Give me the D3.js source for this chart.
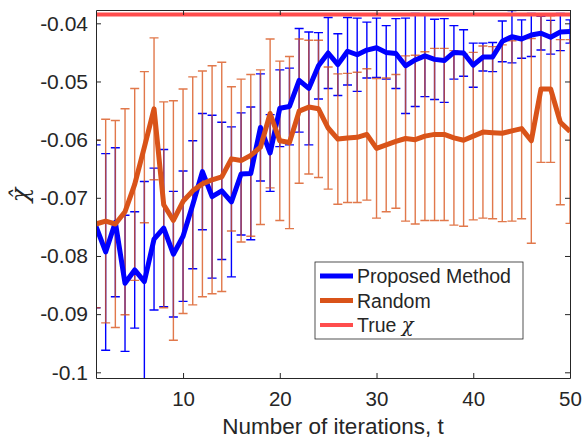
<!DOCTYPE html>
<html>
<head>
<meta charset="utf-8">
<script src="https://cdn.jsdelivr.net/npm/d3@7"></script>
<style>
  body { margin: 0; background: #fff; }
  text { font-family: "Liberation Sans", Arial, Helvetica, sans-serif; fill: #262626; }
</style>
</head>
<body>
<svg id="chart" width="582" height="438"></svg>
<script>
// iteration index t
const iterations = d3.range(1, 51);

// proposed method: mean and error (half length of the bar)
const proposedMean = [-0.0749, -0.0793, -0.0742, -0.0847, -0.0824, -0.0844, -0.0771, -0.0752, -0.0797, -0.0766,
                      -0.0712, -0.0655, -0.0698, -0.0688, -0.0707, -0.0659, -0.0658, -0.0579, -0.0623, -0.0546,
                      -0.0543, -0.0498, -0.0512, -0.0473, -0.0451, -0.0471, -0.0448, -0.0454, -0.0446, -0.0442,
                      -0.0450, -0.0452, -0.0473, -0.0463, -0.0456, -0.0462, -0.0464, -0.0450, -0.0451, -0.0472,
                      -0.0458, -0.0458, -0.0431, -0.0423, -0.0427, -0.0420, -0.0417, -0.0424, -0.0415, -0.0414];
const proposedErr  = [0.0140, 0.0169, 0.0128, 0.0117, 0.0100, 0.0172, 0.0122, 0.0135, 0.0108, 0.0112,
                      0.0110, 0.0100, 0.0140, 0.0118, 0.0129, 0.0105, 0.0114, 0.0092, 0.0066, 0.0066,
                      0.0066, 0.0089, 0.0097, 0.0057, 0.0061, 0.0053, 0.0058, 0.0063, 0.0048, 0.0051,
                      0.0046, 0.0060, 0.0082, 0.0080, 0.0070, 0.0069, 0.0072, 0.0046, 0.0040, 0.0038,
                      0.0024, 0.0025, 0.0035, 0.0045, 0.0033, 0.0037, 0.0029, 0.0029, 0.0032, 0.0020];

// random selection: mean and error
const randomMean = [-0.0745, -0.0740, -0.0745, -0.0724, -0.0677, -0.0613, -0.0547, -0.0712, -0.0739, -0.0706,
                    -0.0688, -0.0676, -0.0669, -0.0664, -0.0633, -0.0636, -0.0627, -0.0613, -0.0555, -0.0602,
                    -0.0605, -0.0551, -0.0544, -0.0547, -0.0580, -0.0599, -0.0597, -0.0596, -0.0591, -0.0615,
                    -0.0609, -0.0603, -0.0598, -0.0600, -0.0594, -0.0591, -0.0591, -0.0597, -0.0601, -0.0594,
                    -0.0587, -0.0588, -0.0589, -0.0585, -0.0581, -0.0602, -0.0513, -0.0513, -0.0570, -0.0586];
const randomErr  = [0.0144, 0.0175, 0.0178, 0.0177, 0.0165, 0.0130, 0.0122, 0.0177, 0.0206, 0.0193,
                    0.0196, 0.0194, 0.0196, 0.0197, 0.0124, 0.0140, 0.0139, 0.0133, 0.0128, 0.0137,
                    0.0148, 0.0124, 0.0115, 0.0118, 0.0105, 0.0112, 0.0111, 0.0112, 0.0113, 0.0120,
                    0.0115, 0.0115, 0.0142, 0.0145, 0.0145, 0.0148, 0.0148, 0.0150, 0.0148, 0.0144,
                    0.0148, 0.0148, 0.0152, 0.0155, 0.0155, 0.0176, 0.0126, 0.0126, 0.0142, 0.0158];

const trueChi = -0.0385;

const xTicks = [10, 20, 30, 40, 50];
const yTicks = [-0.1, -0.09, -0.08, -0.07, -0.06, -0.05, -0.04];
const legendLabels = ["Proposed Method", "Random", "True "];

const blue = "#0000ff", orange = "#d95319", red = "#ff4d4d", axisColor = "#262626";

let plotLeft = 96, plotRight = 570, plotTop = 10, plotBottom = 378;

let x = d3.scaleLinear().domain([1, 50]).range([plotLeft, plotRight]);
let y = d3.scaleLinear().domain([-0.10098, -0.03771]).range([plotBottom, plotTop]);

let svg = d3.select("#chart");

svg.append("defs").append("clipPath").attr("id", "plotclip")
    .append("rect").attr("x", plotLeft).attr("y", plotTop)
    .attr("width", plotRight - plotLeft).attr("height", plotBottom - plotTop);

let plot = svg.append("g").attr("clip-path", "url(#plotclip)");

/* error bars: vertical line plus two caps */
function errorBars(mean, err, color, opacity) {
    let g = plot.append("g").attr("stroke", color).attr("stroke-width", 1.4).attr("opacity", opacity).attr("fill", "none");
    let cap = 4.5;
    iterations.forEach(function(t, i) {
        let cx = x(t), y1 = y(mean[i] + err[i]), y2 = y(mean[i] - err[i]);
        let path = "M" + cx + "," + y1 + "V" + y2 +
                   "M" + (cx - cap) + "," + y1 + "H" + (cx + cap) +
                   "M" + (cx - cap) + "," + y2 + "H" + (cx + cap);
        g.append("path").attr("d", path);
    });
}
errorBars(proposedMean, proposedErr, blue, 1);
errorBars(randomMean, randomErr, orange, 0.78);

let line = function(vals) {
    return d3.line().x(function(d, i) { return x(iterations[i]); }).y(function(d) { return y(d); })(vals);
};

plot.append("path").attr("d", line(proposedMean)).attr("fill", "none")
    .attr("stroke", blue).attr("stroke-width", 5).attr("stroke-linejoin", "round");
plot.append("path").attr("d", line(randomMean)).attr("fill", "none")
    .attr("stroke", orange).attr("stroke-width", 5).attr("stroke-linejoin", "round");
plot.append("line").attr("x1", plotLeft).attr("x2", plotRight).attr("y1", y(trueChi)).attr("y2", y(trueChi))
    .attr("stroke", red).attr("stroke-width", 4);

/* axes, MATLAB style: box with ticks pointing inwards */
let xAxis = d3.axisBottom(x).tickValues(xTicks).tickSizeInner(-5).tickSizeOuter(0).tickPadding(13);
let yAxis = d3.axisLeft(y).tickValues(yTicks).tickSizeInner(-5).tickSizeOuter(0).tickPadding(8)
    .tickFormat(function(d) { return String(d); });

let gx = svg.append("g").attr("transform", "translate(0," + plotBottom + ")").call(xAxis);
let gy = svg.append("g").attr("transform", "translate(" + plotLeft + ",0)").call(yAxis);
let gxTop = svg.append("g").attr("transform", "translate(0," + plotTop + ")")
    .call(d3.axisTop(x).tickValues(xTicks).tickSizeInner(-5).tickSizeOuter(0).tickFormat(""));
let gyRight = svg.append("g").attr("transform", "translate(" + plotRight + ",0)")
    .call(d3.axisRight(y).tickValues(yTicks).tickSizeInner(-5).tickSizeOuter(0).tickFormat(""));

[gx, gy, gxTop, gyRight].forEach(function(g) {
    g.selectAll(".domain").attr("stroke", axisColor).attr("stroke-width", 1);
    g.selectAll(".tick line").attr("stroke", axisColor);
    g.selectAll("text").attr("font-size", 21).attr("fill", axisColor)
        .style("font-family", "'Liberation Sans', Arial, sans-serif");
});
gx.selectAll("text").attr("font-size", 20.5);

// x axis label
svg.append("text").attr("x", (plotLeft + plotRight) / 2).attr("y", 433.5).attr("text-anchor", "middle")
    .attr("font-size", 22.5).text("Number of iterations, t");

// y axis label, chi hat
svg.append("text").attr("transform", "translate(28,195) rotate(-90)").attr("text-anchor", "middle")
    .attr("font-size", 24).style("font-family", "'DejaVu Serif', serif").style("font-style", "italic")
    .text("\u03c7\u0302");

/* legend */
let legend = svg.append("g");
legend.append("rect").attr("x", 315).attr("y", 262).attr("width", 208).attr("height", 77)
    .attr("fill", "#fff").attr("stroke", axisColor).attr("stroke-width", 0.8);
let legendColors = [blue, orange, red];
let legendWidths = [5, 5, 4];
legendLabels.forEach(function(label, i) {
    let ly = 276 + i * 24.5;
    legend.append("line").attr("x1", 320).attr("x2", 353).attr("y1", ly).attr("y2", ly)
        .attr("stroke", legendColors[i]).attr("stroke-width", legendWidths[i]);
    let t = legend.append("text").attr("x", 357).attr("y", ly + 7).attr("font-size", 19.5).text(label);
    if (i === 2) {
        t.append("tspan").style("font-family", "'DejaVu Serif', serif").style("font-style", "italic").text("\u03c7");
    }
});
</script>
</body>
</html>
